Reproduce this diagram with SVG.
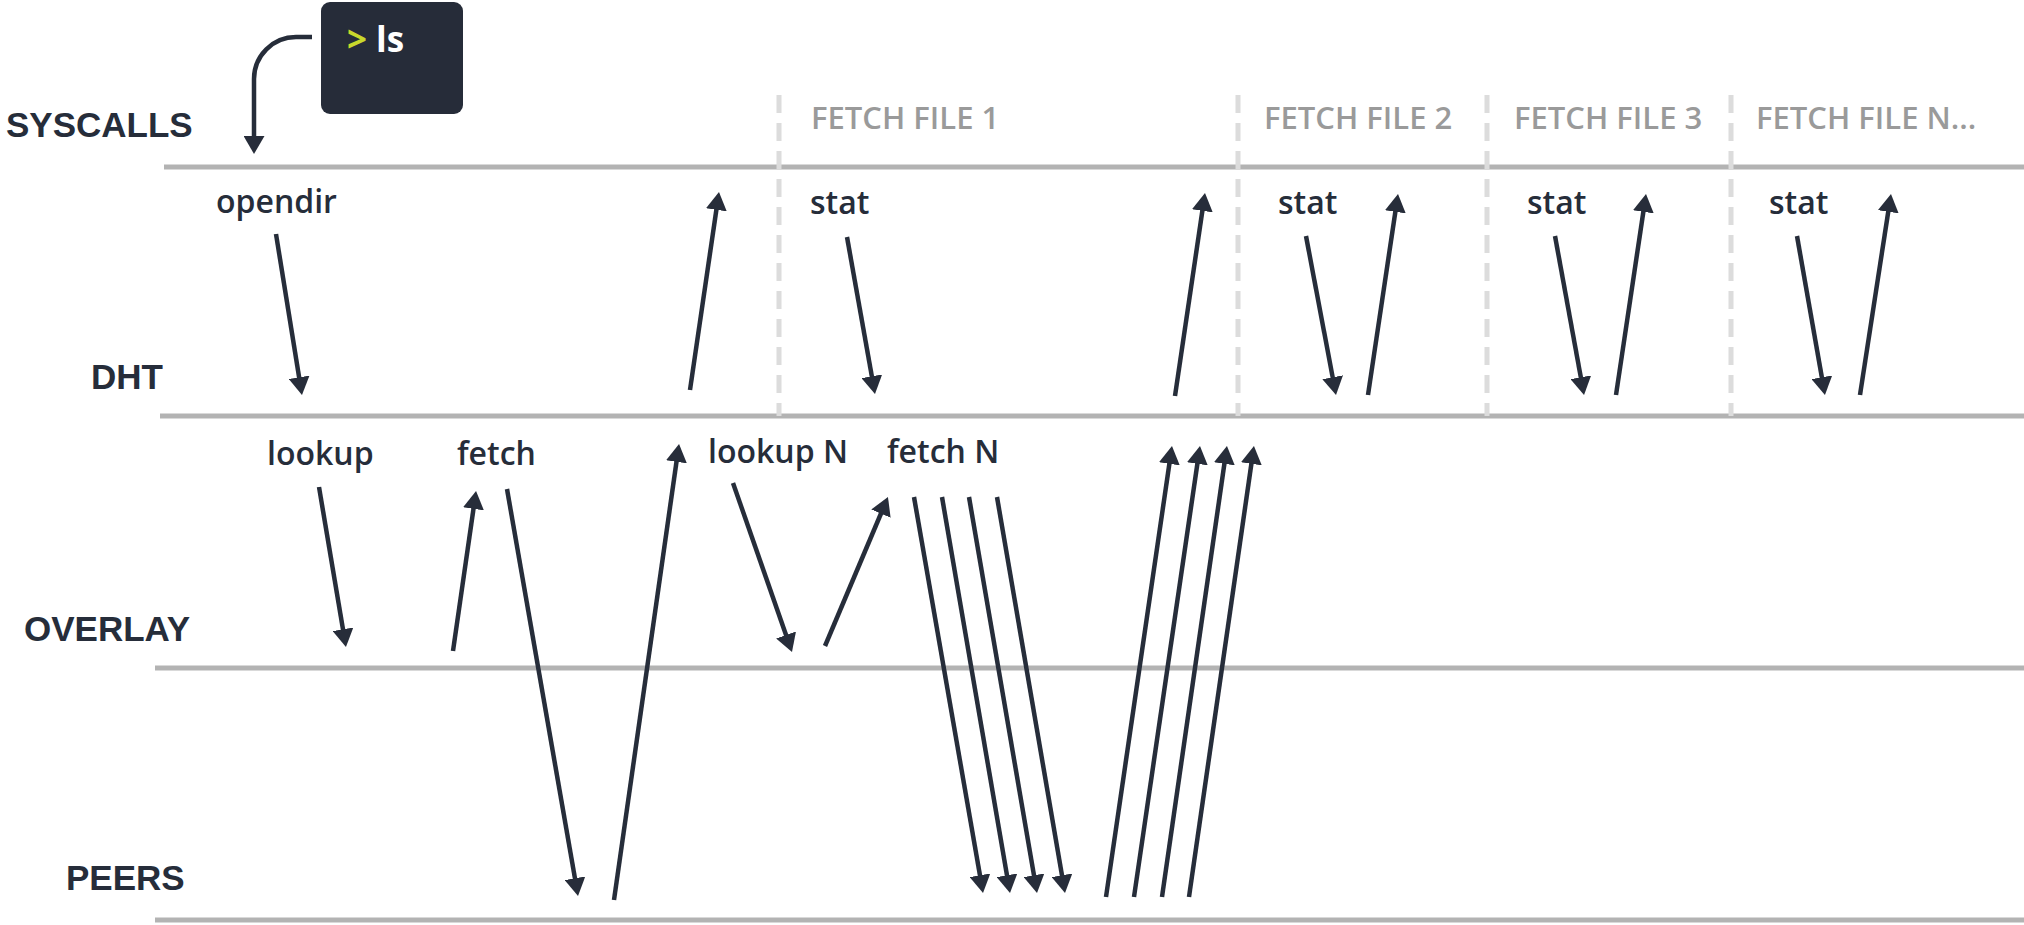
<svg xmlns="http://www.w3.org/2000/svg" width="2024" height="925" viewBox="0 0 2024 925">
  <defs>
    <marker id="head" viewBox="0 0 18 21" refX="5" refY="10.5" markerWidth="18" markerHeight="21" markerUnits="userSpaceOnUse" orient="auto">
      <path d="M0,0 L18,10.5 L0,21 z" fill="#272d3a"/>
    </marker>
    <style>
      .lane{stroke:#b3b3b3;stroke-width:5;fill:none}
      .sep{stroke:#dcdcdc;stroke-width:5;stroke-dasharray:18 10;fill:none}
      .layer{font-family:"Liberation Sans",Arial,sans-serif;font-weight:700;font-size:35px;fill:#262d3a}
      .phase{font-family:"Open Sans","Liberation Sans",sans-serif;font-weight:600;font-size:31px;fill:#9a9a9a}
      .call{font-family:"Open Sans","Liberation Sans",sans-serif;font-weight:600;font-size:32px;fill:#262d3a}
      .arrow{stroke:#262d3a;stroke-width:4.5;fill:none;marker-end:url(#head)}
      .term{font-family:"Open Sans","Liberation Sans",sans-serif;font-weight:700;font-size:35px}
    </style>
  </defs>
  <rect width="2024" height="925" fill="#ffffff"/>

  <!-- layer lanes -->
  <g id="lanes">
    <line class="lane" x1="164" y1="167" x2="2024" y2="167"/>
    <line class="lane" x1="160" y1="416" x2="2024" y2="416"/>
    <line class="lane" x1="155" y1="668" x2="2024" y2="668"/>
    <line class="lane" x1="155" y1="920" x2="2024" y2="920"/>
  </g>

  <!-- layer names -->
  <g id="layer-syscalls"><text class="layer" x="6" y="137">SYSCALLS</text></g>
  <g id="layer-dht"><text class="layer" x="91" y="389">DHT</text></g>
  <g id="layer-overlay"><text class="layer" x="24" y="641">OVERLAY</text></g>
  <g id="layer-peers"><text class="layer" x="66" y="890">PEERS</text></g>

  <!-- phase separators -->
  <g id="separators">
    <line class="sep" x1="779" y1="95" x2="779" y2="416"/>
    <line class="sep" x1="1238" y1="95" x2="1238" y2="416"/>
    <line class="sep" x1="1487" y1="95" x2="1487" y2="416"/>
    <line class="sep" x1="1731" y1="95" x2="1731" y2="416"/>
  </g>

  <!-- phase titles -->
  <g id="phase-1"><text class="phase" x="811" y="129">FETCH FILE 1</text></g>
  <g id="phase-2"><text class="phase" x="1264" y="129">FETCH FILE 2</text></g>
  <g id="phase-3"><text class="phase" x="1514" y="129">FETCH FILE 3</text></g>
  <g id="phase-n"><text class="phase" x="1756" y="129">FETCH FILE N...</text></g>

  <!-- terminal -->
  <g id="terminal">
    <rect x="321" y="2" width="142" height="112" rx="9" fill="#262c39"/>
    <text class="term" x="347" y="52"><tspan fill="#c8d82c">&gt;</tspan><tspan fill="#ffffff" dx="9">ls</tspan></text>
  </g>

  <!-- call labels -->
  <g id="call-opendir"><text class="call" x="216" y="213">opendir</text></g>
  <g id="call-stat-1"><text class="call" x="810" y="214">stat</text></g>
  <g id="call-stat-2"><text class="call" x="1278" y="214">stat</text></g>
  <g id="call-stat-3"><text class="call" x="1527" y="214">stat</text></g>
  <g id="call-stat-n"><text class="call" x="1769" y="214">stat</text></g>
  <g id="call-lookup"><text class="call" x="267" y="465">lookup</text></g>
  <g id="call-fetch"><text class="call" x="457" y="465">fetch</text></g>
  <g id="call-lookup-n"><text class="call" x="708" y="463">lookup N</text></g>
  <g id="call-fetch-n"><text class="call" x="887" y="463">fetch N</text></g>

  <!-- connectors -->
  <g id="connectors">
    <path class="arrow" d="M312,37 H296 A42,42 0 0 0 254,79 V141"/>
    <!-- directory listing -->
    <line class="arrow" x1="276" y1="234" x2="299.9" y2="382.2"/>
    <line class="arrow" x1="319" y1="487" x2="343.8" y2="634.2"/>
    <line class="arrow" x1="453" y1="651" x2="474.2" y2="503.9"/>
    <line class="arrow" x1="507" y1="489" x2="575.8" y2="883.2"/>
    <line class="arrow" x1="614" y1="900" x2="677.2" y2="456.9"/>
    <line class="arrow" x1="690" y1="390" x2="717.1" y2="204.9"/>
    <!-- file 1 -->
    <line class="arrow" x1="847" y1="237" x2="872.7" y2="381.2"/>
    <line class="arrow" x1="733" y1="483" x2="787.7" y2="639.7"/>
    <line class="arrow" x1="825" y1="646" x2="882.9" y2="509"/>
    <line class="arrow" x1="914" y1="497" x2="980.8" y2="880.2"/>
    <line class="arrow" x1="942" y1="497" x2="1007.8" y2="880.2"/>
    <line class="arrow" x1="969" y1="497" x2="1034.8" y2="880.2"/>
    <line class="arrow" x1="997" y1="497" x2="1062.8" y2="880.2"/>
    <line class="arrow" x1="1106" y1="897" x2="1170.1" y2="458.9"/>
    <line class="arrow" x1="1134" y1="897" x2="1198.1" y2="458.9"/>
    <line class="arrow" x1="1162" y1="897" x2="1225.1" y2="458.9"/>
    <line class="arrow" x1="1189" y1="897" x2="1252.1" y2="458.9"/>
    <line class="arrow" x1="1175" y1="396" x2="1203.1" y2="205.9"/>
    <!-- files 2, 3, N -->
    <line class="arrow" x1="1306" y1="236" x2="1333.6" y2="382.2"/>
    <line class="arrow" x1="1368" y1="395" x2="1396.1" y2="206.9"/>
    <line class="arrow" x1="1555" y1="236" x2="1581.7" y2="382.2"/>
    <line class="arrow" x1="1616" y1="395" x2="1644.1" y2="206.9"/>
    <line class="arrow" x1="1797" y1="236" x2="1822.7" y2="382.2"/>
    <line class="arrow" x1="1860" y1="395" x2="1889" y2="206.8"/>
  </g>
</svg>
